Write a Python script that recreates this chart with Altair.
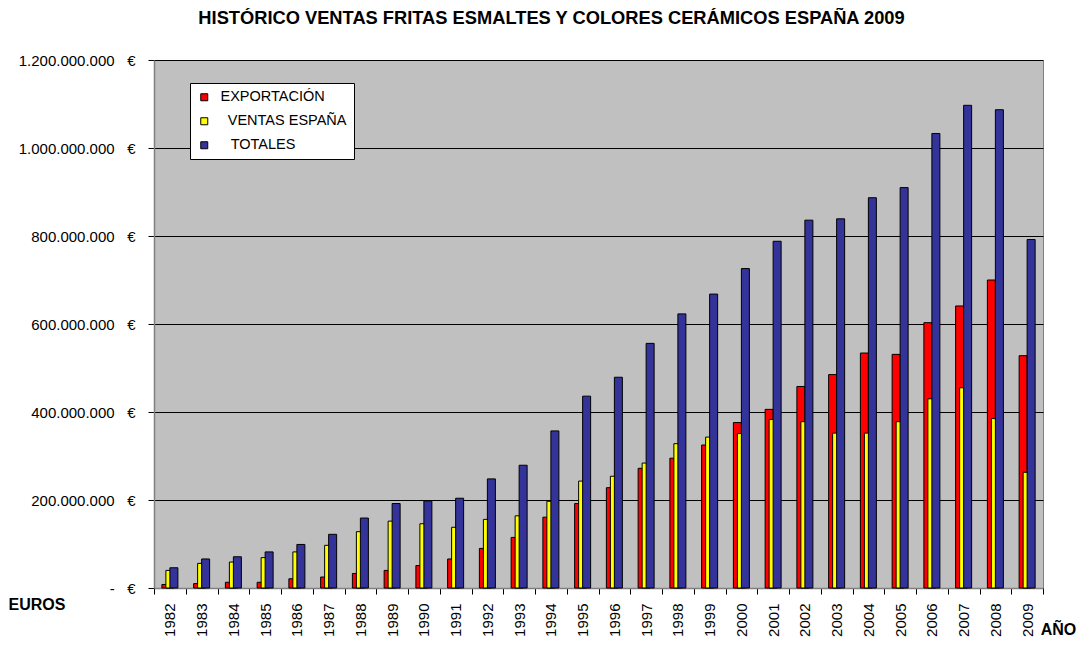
import altair as alt
import pandas as pd

years = [str(y) for y in range(1982, 2010)]
# values in millions of euros
exportacion = [8, 10, 13, 13, 21, 25, 33, 40, 51, 66, 90, 115, 161, 192, 228, 272, 295, 325,
               376, 406, 458, 485, 534, 531, 603, 641, 700, 528]
ventas_espana = [40, 56, 59, 69, 82, 97, 128, 152, 146, 138, 156, 164, 197, 243, 254, 284, 328, 343,
                 351, 383, 378, 352, 352, 378, 430, 455, 385, 263]
totales = [46, 66, 71, 82, 99, 122, 159, 192, 198, 204, 248, 279, 357, 436, 479, 556, 623, 668,
           726, 788, 836, 839, 887, 910, 1033, 1097, 1087, 792]

series_names = ["EXPORTACIÓN", "\u200b\u2002VENTAS ESPAÑA", "\u200b\u2002\u2009TOTALES"]
series_colors = ["#FF0000", "#FFFF00", "#333399"]
y_ticks = [0, 200e6, 400e6, 600e6, 800e6, 1000e6, 1200e6]

rows = []
for name, vals in zip(series_names, [exportacion, ventas_espana, totales]):
    for yr, v in zip(years, vals):
        rows.append({"year": yr, "serie": name, "value": v * 1e6})
df = pd.DataFrame(rows)

FONT = "Liberation Sans"
NB = "\u00a0"

x_enc = alt.X(
    "year:N", sort=years,
    scale=alt.Scale(paddingInner=0, paddingOuter=0),
    axis=alt.Axis(
        labelAngle=-90, labelFontSize=15, labelFont=FONT, labelColor="#000000",
        labelPadding=9, tickBand="extent", tickSize=6, tickColor="#000000",
        domainColor="#808080", domainWidth=1.5, grid=False,
        title="AÑO", titleFont=FONT, titleFontSize=16, titleFontWeight="bold",
        titleX=904, titleY=49, titleAlign="center", titleBaseline="bottom", titleAngle=0,
    ),
)
y_expr = ("datum.value == 0 ? '-" + NB * 3 + "€' : replace(replace(replace(format(datum.value, ','), ',', '.'), ',', '.'), ',', '.') + '"
          + NB * 3 + "€'")
y_enc = alt.Y(
    "value:Q",
    scale=alt.Scale(domain=[0, 1.2e9], nice=False),
    axis=alt.Axis(
        values=y_ticks, labelExpr=y_expr, labelFontSize=15, labelFont=FONT,
        labelColor="#000000", labelPadding=13, tickSize=6, tickColor="#000000",
        domainColor="#808080", domainWidth=1.5, grid=True, gridColor="#000000", gridWidth=1,
        title="EUROS", titleFont=FONT, titleFontSize=16, titleFontWeight="bold",
        titleAngle=0, titleX=-146, titleY=544, titleAlign="left", titleBaseline="middle",
    ),
)
color_enc = alt.Color(
    "serie:N",
    scale=alt.Scale(domain=series_names, range=series_colors),
    legend=alt.Legend(
        title=None, orient="none", legendX=36, legendY=23,
        fillColor="#FFFFFF", strokeColor="#000000", padding=7,
        symbolType="square", symbolSize=49, symbolStrokeColor="#000000", symbolStrokeWidth=1,
        labelFont=FONT, labelFontSize=14.5, labelColor="#000000", labelOffset=9,
        rowPadding=9,
    ),
)

layers = []
for name, off in zip(series_names, [-4, 0, 4]):
    layers.append(
        alt.Chart(df)
        .transform_filter(alt.datum.serie == name)
        .mark_bar(width=8, xOffset=off, stroke="#000000", strokeWidth=1)
        .encode(x=x_enc, y=y_enc, color=color_enc)
    )

chart = (
    alt.layer(*layers)
    .properties(
        width=889, height=528,
        padding={"left": 146, "top": 52, "right": 35, "bottom": 50},
        autosize=alt.AutoSizeParams(type="none"),
        title=alt.Title(
            "HISTÓRICO VENTAS FRITAS ESMALTES Y COLORES CERÁMICOS ESPAÑA 2009",
            font=FONT, fontSize=18.3, fontWeight="bold", color="#000000",
            anchor="middle", dx=-47, offset=25,
        ),
    )
    .configure_view(fill="#C0C0C0", stroke="#808080", strokeWidth=1)
)

chart.save("out.html", embed_options={"renderer": "svg", "actions": False})
